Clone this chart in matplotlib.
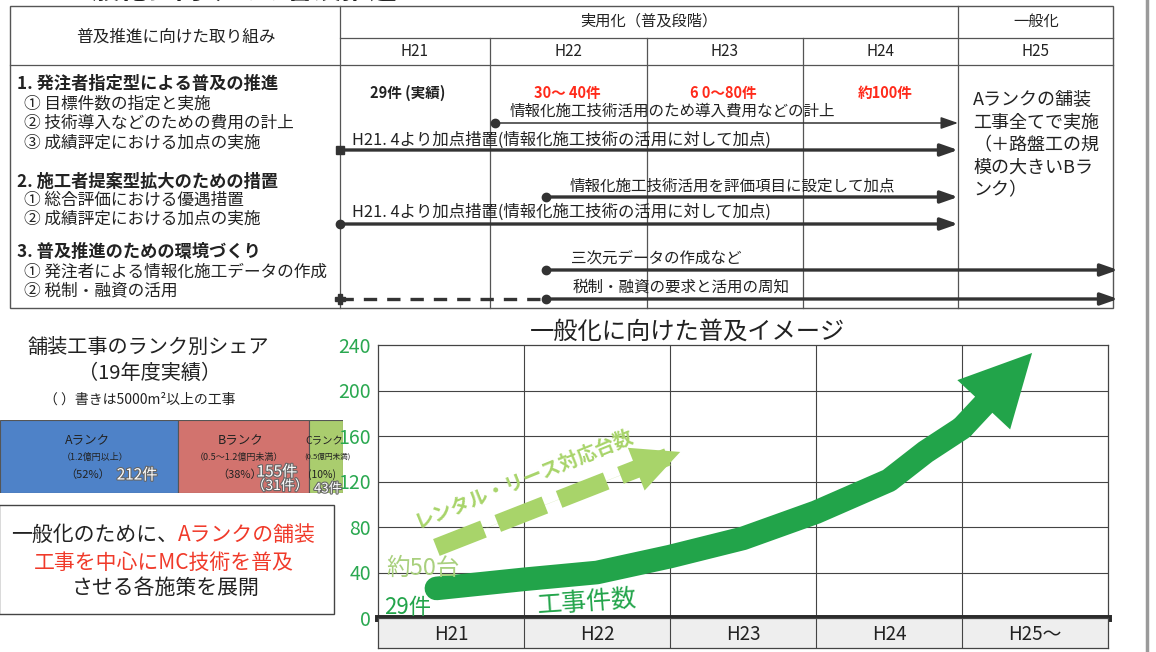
import matplotlib
matplotlib.use('Agg')
import matplotlib.pyplot as plt
from matplotlib.patches import Rectangle
import matplotlib.patheffects as pe

plt.rcParams['font.family'] = ['Noto Sans CJK JP', 'DejaVu Sans']

W, H = 1156, 652

# ---------------- data ----------------
years = ['H21', 'H22', 'H23', 'H24', 'H25']
chart_years = ['H21', 'H22', 'H23', 'H24', 'H25～']
y_ticks = [0, 40, 80, 120, 160, 200, 240]
# 工事件数 image curve (x in year units, value)
work_x = [0.40, 1.0, 1.5, 2.0, 2.5, 3.0, 3.5, 3.75, 4.0]
work_y = [26, 34, 40, 54, 70, 93, 121, 146, 167]
work_tip = (4.48, 233)
# レンタル・リース対応台数 dashed arrow
rental_start = (0.40, 62)
rental_tip = (2.07, 146)
rank_names = ['Aランク', 'Bランク', 'Cランク']
rank_share = [52, 38, 10]
rank_cost = ['（1.2億円以上）', '（0.5～1.2億円未満）', '(0.5億円未満)']
rank_pct = ['（52%）', '（38%）', '(10%)']
rank_count = ['212件', '155件', '43件']
rank_colors = ['#4e82c8', '#d2736e', '#aacd6e']
targets = ['29件 (実績)', '30～ 40件', '6 0～80件', '約100件']
target_colors = ['#222222', '#ff2a1a', '#ff2a1a', '#ff2a1a']

GREEN = '#22a44a'
LIGHT = '#a8d46a'
TICKG = '#2aa850'
RED = '#f03a2a'
LINE = '#555555'
DARK = '#333333'

fig = plt.figure(figsize=(W / 100, H / 100), dpi=100)
fig.patch.set_facecolor('white')

bg = fig.add_axes([0, 0, 1, 1], zorder=0)
bg.set_xlim(0, W)
bg.set_ylim(H, 0)
bg.axis('off')
P = bg.transData


def rect_px(x0, y0, x1, y1):
    return [x0 / W, 1 - y1 / H, (x1 - x0) / W, (y1 - y0) / H]


def T(x, y, s, **kw):
    kw.setdefault('va', 'center')
    kw.setdefault('ha', 'left')
    kw.setdefault('color', '#222222')
    return fig.text(x, y, s, transform=P, **kw)


def hl(y, x0, x1, **kw):
    bg.plot([x0, x1], [y, y], color=kw.get('color', LINE), lw=kw.get('lw', 0.9))


def vl(x, y0, y1, **kw):
    bg.plot([x, x], [y0, y1], color=kw.get('color', LINE), lw=kw.get('lw', 0.9))


# ---------------- cut-off heading at top ----------------
T(65, 5, '一般化に向けての普及推進', fontsize=20, fontweight='bold', va='bottom')

# ---------------- table ----------------
tx0, tx1, ty0, ty1 = 10, 1113, 6, 308
col_edges = [340, 490, 647, 803, 958, 1113]
bg.add_patch(Rectangle((tx0, ty0), tx1 - tx0, ty1 - ty0, fill=False, ec=LINE, lw=1.0))
vl(340, ty0, ty1)
vl(958, ty0, ty1)
for x in col_edges[1:4]:
    vl(x, 38, ty1)
hl(38, 340, tx1)
hl(65, tx0, tx1)

T(176, 37, '普及推進に向けた取り組み', fontsize=12, ha='center')
T(649, 21, '実用化（普及段階）', fontsize=11, ha='center')
T(1036, 21, '一般化', fontsize=11, ha='center')
for i, yr in enumerate(years):
    T((col_edges[i] + col_edges[i + 1]) / 2, 52, yr, fontsize=11, ha='center')

left_rows = [
    (17, 84, '1. 発注者指定型による普及の推進', True),
    (24, 104, '① 目標件数の指定と実施', False),
    (24, 123, '② 技術導入などのための費用の計上', False),
    (24, 143, '③ 成績評定における加点の実施', False),
    (17, 182, '2. 施工者提案型拡大のための措置', True),
    (24, 200, '① 総合評価における優遇措置', False),
    (24, 219, '② 成績評定における加点の実施', False),
    (17, 252, '3. 普及推進のための環境づくり', True),
    (24, 272, '① 発注者による情報化施工データの作成', False),
    (24, 291, '② 税制・融資の活用', False),
]
for x, y, s, b in left_rows:
    T(x, y, s, fontsize=12.4 if b else 12.0, fontweight='bold' if b else 'normal')

for i, (s, c) in enumerate(zip(targets, target_colors)):
    T([408, 567, 723, 885][i], 93, s, fontsize=10.5, fontweight='bold', color=c, ha='center')

T(973, 99, 'Aランクの舗装', fontsize=13)
T(973, 122, '工事全てで実施', fontsize=13)
T(973, 145, '（＋路盤工の規', fontsize=13)
T(973, 168, '模の大きいBラ', fontsize=13)
T(973, 190, 'ンク）', fontsize=13)


def arrow(x0, x1, y, lw, marker=None, ms=6):
    bg.annotate('', xy=(x1, y), xytext=(x0, y),
                arrowprops=dict(arrowstyle='-|>,head_length=0.8,head_width=0.28',
                                mutation_scale=13, lw=lw, color=DARK,
                                shrinkA=0, shrinkB=0))
    if marker:
        bg.plot([x0], [y], marker=marker, ms=ms, color=DARK, mec=DARK)


T(510, 111, '情報化施工技術活用のため導入費用などの計上', fontsize=11.2)
arrow(495, 958, 123, 1.1, 'o', 6)
T(352, 140, 'H21. 4より加点措置(情報化施工技術の活用に対して加点)', fontsize=11.8)
arrow(340, 958, 150, 2.4, 's', 6)
T(570, 186, '情報化施工技術活用を評価項目に設定して加点', fontsize=11.2)
arrow(546, 958, 197, 2.4, 'o', 6)
T(352, 212, 'H21. 4より加点措置(情報化施工技術の活用に対して加点)', fontsize=11.8)
arrow(340, 958, 224, 2.4, 'o', 6)
T(571, 258, '三次元データの作成など', fontsize=11.2)
arrow(546, 1118, 270, 2.4, 'o', 6)
T(573, 287, '税制・融資の要求と活用の周知', fontsize=11.2)
arrow(546, 1118, 299, 2.4, 'o', 6)
bg.plot([340, 546], [299, 299], color=DARK, lw=2.4, ls=(0, (4, 3)))
bg.plot([340], [299], marker='P', ms=7, color=DARK)

# page edge
vl(1147, 0, H, color='#9a9a9a', lw=2.5)

# ---------------- left lower: share bar ----------------
T(148, 347, '舗装工事のランク別シェア', fontsize=14.5, ha='center')
T(150, 373, '（19年度実績）', fontsize=14.5, ha='center')
T(140, 400, '（ ）書きは5000m²以上の工事', fontsize=10, ha='center')

axb = fig.add_axes(rect_px(0, 420, 343, 493), zorder=1)
left = 0
for v, c in zip(rank_share, rank_colors):
    axb.barh([0], [v], left=left, height=1.0, color=c, edgecolor='#555555', lw=0.8)
    left += v
axb.set_xlim(0, sum(rank_share))
axb.set_ylim(-0.5, 0.5)
axb.axis('off')

stroke = [pe.withStroke(linewidth=1.6, foreground='#666666')]
T(88, 441, rank_names[0], fontsize=9, ha='center')
T(95, 457, rank_cost[0], fontsize=6.5, ha='center')
T(88, 475, rank_pct[0], fontsize=8, ha='center')
T(137, 475, rank_count[0], fontsize=11, ha='center', color='white', path_effects=stroke)
T(241, 441, rank_names[1], fontsize=9, ha='center')
T(239, 457, rank_cost[1], fontsize=6.5, ha='center')
T(240, 475, rank_pct[1], fontsize=8, ha='center')
T(277, 472, rank_count[1], fontsize=11, ha='center', color='white', path_effects=stroke)
T(280, 486, '（31件）', fontsize=10, ha='center', color='white', path_effects=stroke)
T(324, 441, rank_names[2], fontsize=7.5, ha='center')
T(327, 457, rank_cost[2], fontsize=5.5, ha='center')
T(322, 475, rank_pct[2], fontsize=7.5, ha='center')
T(328, 489, rank_count[2], fontsize=9.5, ha='center', color='white', path_effects=stroke)

# text box
bg.add_patch(Rectangle((-1, 505), 335, 109, fill=False, ec='#444444', lw=1.0))
T(178, 535, '一般化のために、', fontsize=15, ha='right')
T(178, 535, 'Aランクの舗装', fontsize=15, ha='left', color=RED)
T(164, 563, '工事を中心にMC技術を普及', fontsize=15, ha='center', color=RED)
T(166, 588, 'させる各施策を展開', fontsize=15, ha='center')

# ---------------- chart ----------------
T(688, 332, '一般化に向けた普及イメージ', fontsize=17.5, ha='center')

ax = fig.add_axes(rect_px(378, 345, 1108, 618), zorder=2)
ax.set_facecolor('white')
ax.set_xlim(0, len(chart_years))
ax.set_ylim(y_ticks[0], y_ticks[-1])
ax.set_xticks([])
ax.set_yticks(y_ticks)
ax.set_yticklabels([str(v) for v in y_ticks])
ax.tick_params(axis='y', length=0, pad=5, labelsize=14, labelcolor=TICKG)
for v in y_ticks[1:-1]:
    ax.axhline(v, color='#444444', lw=0.8, zorder=1)
for i in range(1, len(chart_years)):
    ax.axvline(i, color='#444444', lw=0.8, zorder=1)
for s in ax.spines.values():
    s.set_color('#444444')
    s.set_linewidth(0.9)
ax.axhline(0, color='#2b2b2b', lw=5, zorder=5, clip_on=False)

# rental dashed arrow
ax.plot([rental_start[0], rental_tip[0]], [rental_start[1], rental_tip[1]],
        color=LIGHT, lw=13, ls=(0, (2.8, 0.85)), dash_capstyle='butt', zorder=3)
ax.annotate('', xy=rental_tip, xytext=rental_start,
            arrowprops=dict(arrowstyle='simple,head_length=3.4,head_width=3.3,tail_width=0.01',
                            mutation_scale=10, fc=LIGHT, ec='none', lw=0,
                            shrinkA=0, shrinkB=0), zorder=3)

# work count curve arrow
ax.plot(work_x, work_y, color=GREEN, lw=17, solid_capstyle='round',
        solid_joinstyle='round', zorder=4)
ax.annotate('', xy=work_tip, xytext=(work_x[-1], work_y[-1]),
            arrowprops=dict(arrowstyle='simple,head_length=5.1,head_width=5.2,tail_width=1.7',
                            mutation_scale=10, fc=GREEN, ec='none', lw=0,
                            shrinkA=0, shrinkB=0), zorder=4)

ax.text(0.31, 44, '約50台', fontsize=17, color='#a9d07e', ha='center', va='center', zorder=6)
ax.text(0.2, 9, '29件', fontsize=16, color=GREEN, ha='center', va='center', zorder=6)
ax.text(1.43, 14, '工事件数', fontsize=18, color=GREEN, ha='center', va='center',
        rotation=4, zorder=6)
ax.text(1.0, 122, 'レンタル・リース対応台数', fontsize=14, color=LIGHT, ha='center',
        va='center', rotation=22, fontweight='bold', zorder=6)

# category label row
axl = fig.add_axes(rect_px(378, 618, 1108, 648), zorder=2)
axl.set_facecolor('#eeeeee')
axl.set_xlim(0, len(chart_years))
axl.set_ylim(0, 1)
axl.set_xticks([])
axl.set_yticks([])
for i in range(1, len(chart_years)):
    axl.axvline(i, color='#444444', lw=0.8)
for s in axl.spines.values():
    s.set_color('#444444')
    s.set_linewidth(0.9)
for i, lab in enumerate(chart_years):
    axl.text(i + 0.5, 0.45, lab, fontsize=13.5, ha='center', va='center', color='#222222')

fig.savefig('out.png', dpi=100)
